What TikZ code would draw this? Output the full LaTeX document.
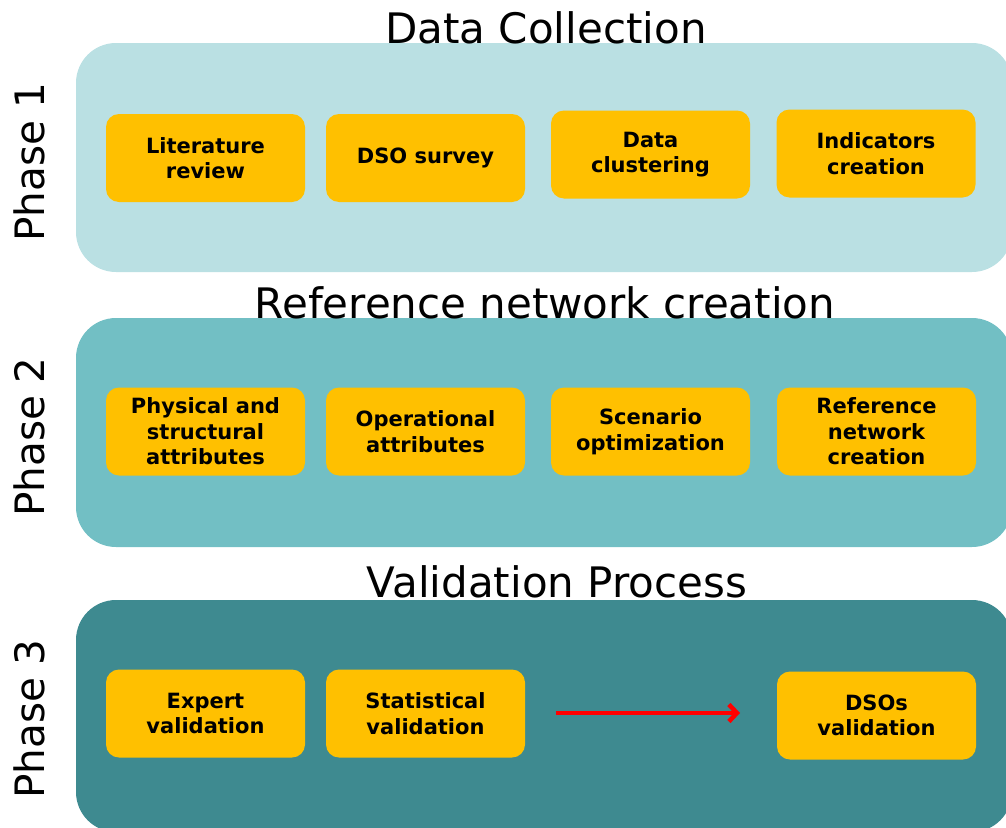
\documentclass[tikz,border=0pt]{standalone}
\usepackage{fontspec}
\setmainfont{DejaVu Sans}
\usetikzlibrary{arrows.meta}
\definecolor{pone}{HTML}{BAE0E3}
\definecolor{ptwo}{HTML}{72BFC4}
\definecolor{pthree}{HTML}{3E8A90}
\definecolor{gold}{HTML}{FFC000}
\begin{document}
\begin{tikzpicture}[x=1pt,y=-1pt,
  stepbox/.style={fill=gold, draw=none, rounded corners=13pt, minimum width=199pt, minimum height=88pt, inner sep=0pt, align=center, font=\fontsize{21}{25.5}\selectfont\bfseries},
  title/.style={anchor=base, inner sep=0pt, font=\fontsize{42}{48}\selectfont},
  phase/.style={rotate=90, inner sep=0pt, font=\fontsize{40.5}{48}\selectfont}]
\useasboundingbox (0,0) rectangle (1006,827);
\clip (0,0) rectangle (1006,827);
% panels
\fill[pone, rounded corners=40pt] (76,43) rectangle (1012,272);
\fill[ptwo, rounded corners=40pt] (76,318) rectangle (1012,547);
\fill[pthree, rounded corners=40pt] (76,600) rectangle (1012,832);
% titles
\node[title] (t1) at (546,43) {Data Collection};
\node[title] (t2) at (545,318) {Reference network creation};
\node[title] (t3) at (557,597) {Validation Process};
% phases
\node[phase] (ph1) at (29,162) {Phase 1};
\node[phase] (ph2) at (29,437) {Phase 2};
\node[phase] (ph3) at (29,719) {Phase 3};
% row 1
\node[stepbox] (a1) at (205.5,158) {Literature\\review};
\node[stepbox] (a2) at (425.5,158) {DSO survey};
\node[stepbox] (a3) at (650.5,154.5) {Data\\clustering};
\node[stepbox] (a4) at (876,153.5) {Indicators\\creation};
% row 2
\node[stepbox] (b1) at (205.5,431.5) {Physical and\\structural\\attributes};
\node[stepbox] (b2) at (425.5,431.5) {Operational\\attributes};
\node[stepbox] (b3) at (650.5,431.5) {Scenario\\optimization};
\node[stepbox] (b4) at (876.5,431.5) {Reference\\network\\creation};
% row 3
\node[stepbox] (c1) at (205.5,713.5) {Expert\\validation};
\node[stepbox] (c2) at (425.5,713.5) {Statistical\\validation};
\node[stepbox] (c4) at (876.5,715.5) {DSOs\\validation};
\coordinate (as) at (556,713);
\coordinate (ae) at (740,713);
\draw[red, line width=4.5pt, -{Straight Barb[length=8pt,width=17pt]}] (as) -- (ae);
\end{tikzpicture}
\end{document}
